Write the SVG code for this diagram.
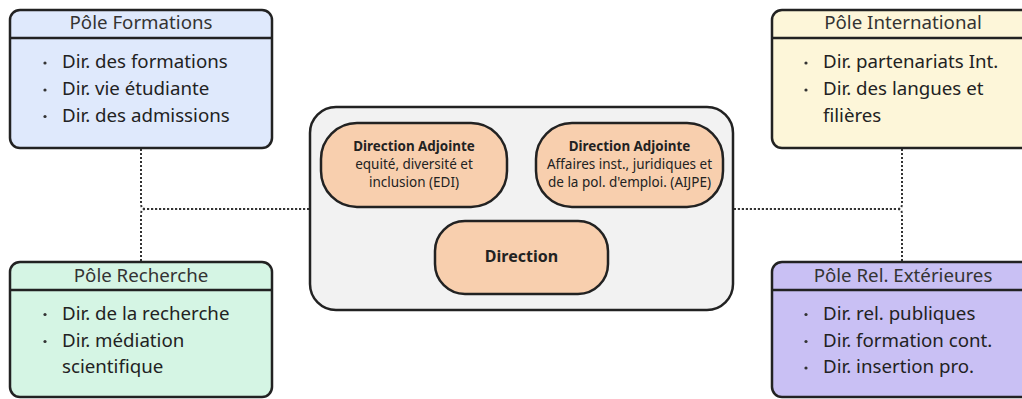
<svg xmlns="http://www.w3.org/2000/svg" width="1022" height="399" viewBox="0 0 1022 399">
<style>
  .pole { stroke: #222; stroke-width: 2.5; }
  .sep { stroke: #222; stroke-width: 2.5; }
  .title { font-family: "Noto Sans", "Open Sans", sans-serif; font-size: 18.7px; fill: #333; text-anchor: middle; }
  .item { font-family: "Noto Sans", "Open Sans", sans-serif; font-size: 18.7px; fill: #222; }
  .bullet { fill: #333; }
  .group { fill: #f2f2f2; stroke: #222; stroke-width: 2.5; }
  .node { fill: #f8cfae; stroke: #222; stroke-width: 2.5; }
  .nb { font-family: "Noto Sans", "Open Sans", sans-serif; font-weight: bold; font-size: 13.4px; fill: #222; text-anchor: middle; }
  .nt { font-family: "Noto Sans", "Open Sans", sans-serif; font-size: 13.5px; fill: #222; text-anchor: middle; }
  .conn { fill: none; stroke: #333; stroke-width: 2; stroke-dasharray: 2 2; }
</style>

<g id="connectors">
  <path class="conn" d="M141,149 V204 Q141,209 146,209 H310"/>
  <path class="conn" d="M141,261 V214 Q141,209 146,209 H310"/>
  <path class="conn" d="M902,149 V204 Q902,209 897,209 H734"/>
  <path class="conn" d="M902,261 V214 Q902,209 897,209 H734"/>
</g>

<g id="pole-formations">
  <rect class="pole" x="10" y="10" width="262" height="138" rx="10" fill="#dfe9fc"/>
  <line class="sep" x1="10" y1="38" x2="272" y2="38"/>
  <text class="title" x="141" y="29">Pôle Formations</text>
  <circle class="bullet" cx="45" cy="63" r="1.6"/>
  <circle class="bullet" cx="45" cy="90" r="1.6"/>
  <circle class="bullet" cx="45" cy="116.5" r="1.6"/>
  <text class="item" x="62" y="68">Dir. des formations</text>
  <text class="item" x="62" y="95">Dir. vie étudiante</text>
  <text class="item" x="62" y="121.5">Dir. des admissions</text>
</g>

<g id="pole-recherche">
  <rect class="pole" x="10" y="262" width="262" height="135" rx="10" fill="#d5f5e4"/>
  <line class="sep" x1="10" y1="290" x2="272" y2="290"/>
  <text class="title" x="141" y="281.5">Pôle Recherche</text>
  <circle class="bullet" cx="45" cy="314.5" r="1.6"/>
  <circle class="bullet" cx="45" cy="341.5" r="1.6"/>
  <text class="item" x="62" y="319.5">Dir. de la recherche</text>
  <text class="item" x="62" y="346.5">Dir. médiation</text>
  <text class="item" x="62" y="373">scientifique</text>
</g>

<g id="pole-international">
  <rect class="pole" x="772" y="10" width="262" height="138" rx="10" fill="#fdf6d9"/>
  <line class="sep" x1="772" y1="38" x2="1034" y2="38"/>
  <text class="title" x="903" y="29">Pôle International</text>
  <circle class="bullet" cx="806" cy="63" r="1.6"/>
  <circle class="bullet" cx="806" cy="90" r="1.6"/>
  <text class="item" x="823" y="68">Dir. partenariats Int.</text>
  <text class="item" x="823" y="95">Dir. des langues et</text>
  <text class="item" x="823" y="121.5">filières</text>
</g>

<g id="pole-rel-exterieures">
  <rect class="pole" x="772" y="262" width="262" height="135" rx="10" fill="#c9c0f4"/>
  <line class="sep" x1="772" y1="290" x2="1034" y2="290"/>
  <text class="title" x="903" y="281.5">Pôle Rel. Extérieures</text>
  <circle class="bullet" cx="806" cy="314.5" r="1.6"/>
  <circle class="bullet" cx="806" cy="341.5" r="1.6"/>
  <circle class="bullet" cx="806" cy="368" r="1.6"/>
  <text class="item" x="823" y="319.5">Dir. rel. publiques</text>
  <text class="item" x="823" y="346.5">Dir. formation cont.</text>
  <text class="item" x="823" y="373">Dir. insertion pro.</text>
</g>

<g id="direction-group">
  <rect class="group" x="310" y="107" width="423" height="203" rx="26"/>
</g>

<g id="da-edi">
  <rect class="node" x="321" y="123" width="186" height="84" rx="36"/>
  <text class="nb" x="414" y="151">Direction Adjointe</text>
  <text class="nt" x="414" y="169">equité, diversité et</text>
  <text class="nt" x="414" y="187">inclusion (EDI)</text>
</g>

<g id="da-aijpe">
  <rect class="node" x="536" y="123" width="187" height="84" rx="36"/>
  <text class="nb" x="629.5" y="151">Direction Adjointe</text>
  <text class="nt" x="629.5" y="169">Affaires inst., juridiques et</text>
  <text class="nt" x="629.5" y="187">de la pol. d'emploi. (AIJPE)</text>
</g>

<g id="direction">
  <rect class="node" x="435" y="221" width="173" height="73" rx="30"/>
  <text class="nb" x="521.5" y="262" style="font-size:16px">Direction</text>
</g>
</svg>
